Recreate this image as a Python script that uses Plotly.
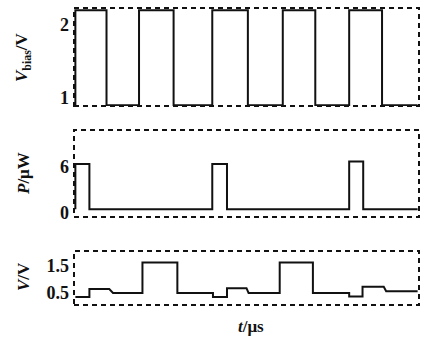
import plotly.graph_objects as go
from plotly.subplots import make_subplots

# ---- data (time in arbitrary µs units) ----
t_bias = [0, 0, 0.91, 1.86, 2.87, 4.0, 5.04, 6.06, 7.01, 8.0, 8.96, 10]
v_bias = [0.9, 2.2, 0.9, 2.2, 0.9, 2.2, 0.9, 2.2, 0.9, 2.2, 0.9, 0.9]

t_power = [0, 0, 0.41, 4.0, 4.43, 8.0, 8.41, 10]
p_power = [0.5, 6.4, 0.5, 6.4, 0.5, 6.7, 0.5, 0.5]

t_out = [0, 0.41, 0.41, 0.99, 1.1, 1.96, 1.96, 2.98, 2.98, 4.02, 4.02, 4.43, 4.43,
         5.0, 5.06, 5.97, 5.97, 6.94, 6.94, 8.0, 8.0, 8.39, 8.39, 9.01, 9.08, 10]
v_out = [0.35, 0.35, 0.64, 0.64, 0.5, 0.5, 1.6, 1.6, 0.5, 0.5, 0.35, 0.35, 0.67,
         0.67, 0.5, 0.5, 1.6, 1.6, 0.5, 0.5, 0.37, 0.37, 0.72, 0.72, 0.56, 0.56]

ticks1 = [1, 2]
ticks2 = [0, 6]
ticks3 = [0.5, 1.5]
ticktext3 = ["0.5", "1.5"]

FONT = "Liberation Serif, Times New Roman, serif"
INK = "#111111"

fig = make_subplots(rows=3, cols=1, shared_xaxes=False)

fig.add_trace(go.Scatter(x=t_bias, y=v_bias, mode="lines", line=dict(color=INK, width=2, shape="hv")), row=1, col=1)
fig.add_trace(go.Scatter(x=t_power, y=p_power, mode="lines", line=dict(color=INK, width=2, shape="hv")), row=2, col=1)
fig.add_trace(go.Scatter(x=t_out, y=v_out, mode="lines", line=dict(color=INK, width=2)), row=3, col=1)

# domains (pixel-matched)
H = 297.0
def dom(top_px, bot_px):
    return [(305 - bot_px) / H, (305 - top_px) / H]

fig.update_layout(
    width=422, height=338,
    margin=dict(l=74, r=3, t=8, b=33),
    paper_bgcolor="white", plot_bgcolor="white",
    showlegend=False,
    font=dict(family=FONT, color=INK, size=18),
    yaxis=dict(domain=dom(8, 106), range=[0.89, 2.23]),
    yaxis2=dict(domain=dom(130, 217), range=[-0.5, 10.8]),
    yaxis3=dict(domain=dom(251, 305), range=[0.06, 2.02]),
)

tickfont = dict(family=FONT, size=18, color=INK, weight="bold")
for i, (tv, tt) in enumerate([(ticks1, [str(v) for v in ticks1]),
                               (ticks2, [str(v) for v in ticks2]),
                               (ticks3, ticktext3)], start=1):
    fig.update_yaxes(row=i, col=1, tickvals=tv, ticktext=tt, showgrid=False, zeroline=False,
                     showline=False, ticks="", tickfont=tickfont, ticklabelstandoff=4,
                     automargin=False)
    fig.update_xaxes(row=i, col=1, range=[-0.04, 10.04], showgrid=False, zeroline=False,
                     showline=False, showticklabels=False, ticks="", automargin=False)

# dashed boxes
for ax in ["", "2", "3"]:
    fig.add_shape(type="rect", xref=f"x{ax} domain", yref=f"y{ax} domain",
                  x0=0, x1=1, y0=0, y1=1, layer="below",
                  line=dict(color=INK, width=2, dash="5px,4px"))

# axis titles
ann = dict(xref="paper", yref="paper", showarrow=False, xanchor="center", yanchor="middle",
           font=dict(family=FONT, size=17, color=INK, weight="bold"))
def py(px):
    return (305 - px) / H
def pxx(px):
    return (px - 74) / 345.0

fig.add_annotation(text="<i>V</i><sub>bias</sub>/V", x=pxx(23), y=py(57), textangle=-90, **ann)
fig.add_annotation(text="<i>P</i>/μW", x=pxx(23), y=py(174), textangle=-90, **ann)
fig.add_annotation(text="<i>V</i>/V", x=pxx(23), y=py(277), textangle=-90, **ann)
fig.add_annotation(text="<i>t</i>/μs", x=pxx(251), y=py(327), **ann)

fig.write_html("out.html", config={"displayModeBar": False},
               post_script="document.body.style.margin='0';document.body.style.overflow='hidden';")
